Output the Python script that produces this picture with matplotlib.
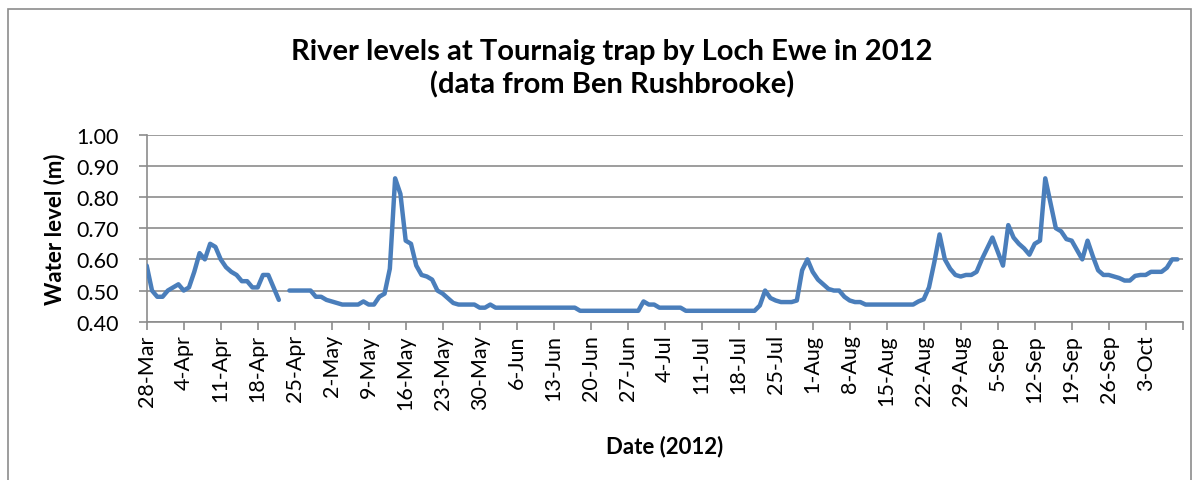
import numpy as np
import pandas as pd
import matplotlib
matplotlib.use("Agg")
import matplotlib.pyplot as plt
from matplotlib.patches import Rectangle

plt.rcParams['font.family'] = ['Lato', 'DejaVu Sans']

# ---- data (daily river level, m) ----
start_date = "2012-03-28"
levels = [
    # 28 Mar - 22 Apr
    0.58, 0.50, 0.48, 0.48, 0.50, 0.51, 0.52, 0.50, 0.51, 0.56,
    0.62, 0.60, 0.65, 0.64, 0.60, 0.575, 0.56, 0.55, 0.53, 0.53,
    0.51, 0.51, 0.55, 0.55, 0.51, 0.47,
    # 23 Apr missing
    np.nan,
    # 24 Apr onwards
    0.50, 0.50, 0.50, 0.50, 0.50, 0.48, 0.48, 0.47, 0.465, 0.46,
    0.455, 0.455, 0.455, 0.455, 0.465, 0.455, 0.455, 0.48, 0.49, 0.57,
    0.86, 0.81, 0.66, 0.65, 0.58, 0.55, 0.545, 0.535, 0.50, 0.49,
    0.475, 0.46, 0.455, 0.455, 0.455, 0.455, 0.445, 0.445, 0.455, 0.445,
    0.445, 0.445, 0.445, 0.445, 0.445, 0.445, 0.445, 0.445, 0.445, 0.445,
    0.445, 0.445, 0.445, 0.445, 0.445,
    0.435, 0.435, 0.435, 0.435, 0.435, 0.435, 0.435, 0.435, 0.435, 0.435,
    0.435, 0.435,
    0.465, 0.455, 0.455, 0.445, 0.445, 0.445, 0.445, 0.445,
    0.435, 0.435, 0.435, 0.435, 0.435, 0.435, 0.435, 0.435, 0.435, 0.435,
    0.435, 0.435, 0.435, 0.435,
    0.452, 0.50, 0.476, 0.468, 0.463, 0.463, 0.463, 0.468, 0.565, 0.60,
    0.56, 0.535, 0.52, 0.505, 0.50, 0.50, 0.48, 0.468, 0.463, 0.463,
    0.455, 0.455, 0.455, 0.455, 0.455, 0.455, 0.455, 0.455, 0.455, 0.455,
    0.465, 0.472, 0.51, 0.59, 0.68, 0.60, 0.57, 0.55, 0.545, 0.55,
    0.55, 0.56, 0.60, 0.635, 0.67, 0.625, 0.58, 0.71, 0.67, 0.65,
    0.635, 0.615, 0.65, 0.66,
    0.86, 0.78, 0.70, 0.69, 0.665, 0.66, 0.63, 0.60, 0.66, 0.61,
    0.565, 0.55, 0.55, 0.545, 0.54, 0.532, 0.532, 0.547, 0.55, 0.55,
    0.56, 0.56, 0.56, 0.573, 0.60, 0.60,
]
dates = pd.date_range(start_date, periods=len(levels), freq="D")

axis_start = "2012-03-28"
axis_end = "2012-10-10"
y_ticks = [0.40, 0.50, 0.60, 0.70, 0.80, 0.90, 1.00]
title = "River levels at Tournaig trap by Loch Ewe in 2012\n(data from Ben Rushbrooke)"
x_label = "Date (2012)"
y_label = "Water level (m)"

# ---- figure ----
W, H = 1194, 481
fig = plt.figure(figsize=(W / 100, H / 100), dpi=100)
fig.patch.set_facecolor("white")

# chart-area border
fig.add_artist(Rectangle((8 / W, -0.05), (W - 8 - 3) / W, 1 - 10 / H + 0.05,
                         transform=fig.transFigure, fill=False,
                         edgecolor="#8c8c8c", linewidth=1.2))

ax = fig.add_axes([146.7 / W, 1 - 322.7 / H, (1182.7 - 146.7) / W, (322.7 - 135.7) / H])
ax.plot(dates, levels, color="#4a7ebb", linewidth=3.2, solid_joinstyle="round",
        solid_capstyle="round", zorder=3)

ax.set_xlim(pd.Timestamp(axis_start), pd.Timestamp(axis_end))
ax.set_ylim(0.40, 1.00)
ax.set_yticks(y_ticks)
ax.set_yticklabels([f"{v:.2f}" for v in y_ticks])
ax.yaxis.grid(True, color="#8c8c8c", linewidth=1.2)
ax.set_axisbelow(True)

tick_dates = pd.date_range(axis_start, axis_end, freq="7D")
ax.set_xticks(tick_dates)
labels = [f"{d.day}-{d.strftime('%b')}" for d in tick_dates]
labels[-1] = ""
ax.set_xticklabels(labels, rotation=90, ha="center", va="top")

for s in ["top", "right"]:
    ax.spines[s].set_visible(False)
for s in ["left", "bottom"]:
    ax.spines[s].set_color("#8c8c8c")
    ax.spines[s].set_linewidth(1.2)
ax.tick_params(axis="both", colors="#8c8c8c", length=6, width=1.2, labelcolor="black",
               labelsize=15.5)
ax.tick_params(axis="x", pad=3)
ax.tick_params(axis="y", pad=14)

fig.text(664.7 / W, 1 - 447 / H, x_label, ha="center", va="center", fontsize=16,
         fontweight="bold")
fig.text(55 / W, 1 - 229 / H, y_label, ha="center", va="center", fontsize=16,
         fontweight="bold", rotation=90)

fig.text(612 / W, 1 - 69 / H, title, ha="center", va="center", fontsize=21,
         fontweight="bold", linespacing=1.3)

fig.savefig("out.png", dpi=100)
